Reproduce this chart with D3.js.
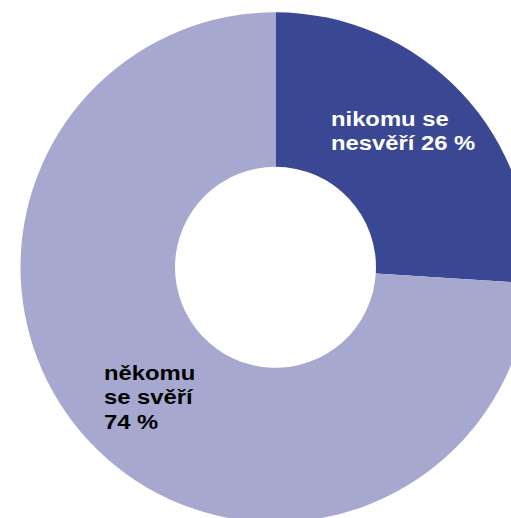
<!DOCTYPE html>
<html>
<head>
<meta charset="utf-8">
<script src="https://cdn.jsdelivr.net/npm/d3@7"></script>
<style>
html,body{margin:0;padding:0;background:#fff;overflow:hidden;}
svg{display:block;}
</style>
</head>
<body>
<script>
const categories = ["nikomu se nesvěří", "někomu se svěří"];
const values = [26, 74];
const labelLines = [["nikomu se", "nesvěří 26 %"], ["někomu", "se svěří", "74 %"]];
const colors = ["#3a4894", "#a7a8cf"];
const labelColors = ["#ffffff", "#000000"];

const W = 511, H = 518;
const cx = 275.5, cy = 267.3, rOuter = 255, rInner = 100.5;

const svg = d3.select("body").append("svg").attr("width", W).attr("height", H);
const g = svg.append("g").attr("transform", `translate(${cx},${cy})`);

const pie = d3.pie().sort(null).value(d => d)(values);
const arc = d3.arc().innerRadius(rInner).outerRadius(rOuter);

g.selectAll("path").data(pie).enter().append("path")
  .attr("d", arc)
  .attr("fill", (d, i) => colors[i]);

// label anchor positions (relative to center)
const labelPos = [[55.5, -141.5], [-171.5, 112.7]];
const lineH = 24.3;
labelLines.forEach((lines, i) => {
  const t = g.append("text")
    .attr("transform", `translate(${labelPos[i][0]},${labelPos[i][1]}) scale(1.19,1)`)
    .attr("font-family", "'Liberation Sans', Arial, sans-serif")
    .attr("font-weight", "bold")
    .attr("font-size", "20px")
    .attr("fill", labelColors[i]);
  lines.forEach((l, j) => {
    t.append("tspan").attr("x", 0).attr("y", j * lineH).text(l);
  });
});
</script>
</body>
</html>
